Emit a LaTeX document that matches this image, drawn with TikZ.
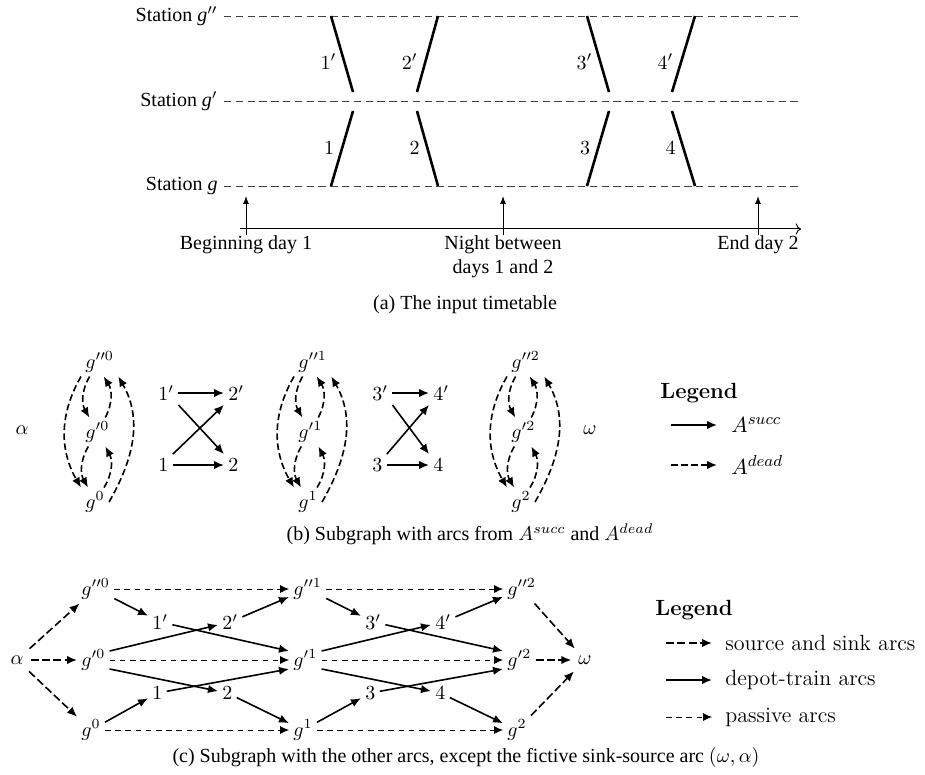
\documentclass[tikz,border=0pt]{standalone}
\usepackage{fontspec}
\newfontfamily\tnr{Liberation Serif}
\usetikzlibrary{arrows.meta}
\begin{document}
\begin{tikzpicture}[x=0.5pt,y=0.5pt,
  station/.style={dash pattern=on 3.7pt off 2.2pt, line width=0.45pt, black!75},
  train/.style={line width=1.3pt},
  tick/.style={-{Latex[length=4pt,width=3pt]}, line width=0.5pt},
  gn/.style={inner sep=2pt, anchor=west},
  tn/.style={inner sep=2pt, anchor=west},
  succ/.style={line width=0.8pt, -{Latex[length=5pt,width=4.2pt]}},
  dead/.style={succ, dash pattern=on 3.3pt off 1.7pt},
  src/.style={succ, dash pattern=on 4pt off 1.7pt},
  passive/.style={line width=0.4pt, dash pattern=on 2.8pt off 2.3pt, -{Latex[length=4.5pt,width=4pt]}},
  captext/.style={font=\tnr},
  legtitle/.style={anchor=west, inner sep=0pt, font=\fontsize{11}{13}\selectfont\bfseries},
  legtext/.style={anchor=west, font=\fontsize{11}{13}\selectfont}
]
\useasboundingbox (0,0) rectangle (925,-775);

% ---------------- (a) timetable ----------------
\node[anchor=east, inner sep=0pt, font=\tnr] (sg2) at (218,-16) {Station \textit{g}$''$};
\node[anchor=east, inner sep=0pt, font=\tnr] (sg1) at (218,-101) {Station \textit{g}$'$};
\node[anchor=east, inner sep=0pt, font=\tnr] (sg0) at (218,-186) {Station \textit{g}};
\coordinate (se2) at (802,-16);
\coordinate (se1) at (802,-101);
\coordinate (se0) at (802,-186);
\draw[station] ([xshift=3pt]sg2.east) -- (se2);
\draw[station] ([xshift=3pt]sg1.east) -- (se1);
\draw[station] ([xshift=3pt]sg0.east) -- (se0);

\draw[train] (331,-16) -- node[pos=0.6,left]{$1'$} (353,-92);
\draw[train] (331,-186) -- node[pos=0.5,left]{$1$} (353,-111);
\draw[train] (438,-16) -- node[pos=0.6,left]{$2'$} (417,-92);
\draw[train] (438,-186) -- node[pos=0.5,left]{$2$} (417,-111);
\draw[train] (587,-16) -- node[pos=0.6,left]{$3'$} (609,-92);
\draw[train] (587,-186) -- node[pos=0.5,left]{$3$} (609,-111);
\draw[train] (695,-16) -- node[pos=0.6,left]{$4'$} (672,-92);
\draw[train] (695,-186) -- node[pos=0.5,left]{$4$} (672,-111);

\coordinate (ax0) at (240,-229);
\coordinate (ax1) at (801,-229);
\draw[->, line width=0.5pt] (ax0) -- (ax1);
\node[anchor=north, inner sep=0pt, font=\tnr] (beg) at (246,-235) {Beginning day 1};
\node[anchor=north, inner sep=0pt, align=center, font=\tnr] (night) at (503,-235) {Night between\\days 1 and 2};
\node[anchor=north, inner sep=0pt, font=\tnr] (endd) at (758,-235) {End day 2};
\coordinate (tb) at (246,-196);
\coordinate (tn) at (503,-196);
\coordinate (te) at (758,-196);
\draw[tick] (beg.north) -- (tb);
\draw[tick] (night.north) -- (tn);
\draw[tick] (endd.north) -- (te);

\node[captext] (capa) at (465,-305) {(a) The input timetable};

% ---------------- (b) ----------------
\node (ab) at (22,-430) {$\alpha$};
\node (wb) at (590,-430) {$\omega$};
\foreach \col/\xl in {0/81, 1/294, 2/507}{
  \node[gn] (b2\col) at (\xl,-362) {$g''^{\col}$};
  \node[gn] (b1\col) at (\xl,-432) {$g'^{\col}$};
  \node[gn] (b0\col) at (\xl,-502) {$g^{\col}$};
  \draw[dead] ([xshift=-5pt]b2\col.south) to[bend right=30] ([xshift=-4pt]b1\col.north);
  \draw[dead] ([xshift=4pt]b1\col.north) to[bend right=30] ([xshift=2pt]b2\col.south);
  \draw[dead] ([xshift=-4.5pt]b1\col.south) to[bend right=30] ([xshift=-3.5pt]b0\col.north);
  \draw[dead] ([xshift=4.5pt]b0\col.north) to[bend right=30] ([xshift=4pt]b1\col.south);
  \draw[dead] (b2\col.south west) to[out=240,in=120] (b0\col.north west);
  \draw[dead] (b0\col.east) to[out=60,in=-60] (b2\col.south east);
}
\node[tn] (b1p) at (154,-393) {$1'$};
\node[tn] (b2p) at (224,-393) {$2'$};
\node[tn] (b1n) at (154,-465) {$1$};
\node[tn] (b2n) at (224,-465) {$2$};
\node[tn] (b3p) at (368,-393) {$3'$};
\node[tn] (b4p) at (429,-393) {$4'$};
\node[tn] (b3n) at (368,-465) {$3$};
\node[tn] (b4n) at (429,-465) {$4$};
\draw[succ] (b1p) -- (b2p);
\draw[succ] (b1n) -- (b2n);
\draw[succ] (b1p.south east) -- (b2n.north west);
\draw[succ] (b1n.north east) -- (b2p.south west);
\draw[succ] (b3p) -- (b4p);
\draw[succ] (b3n) -- (b4n);
\draw[succ] (b3p.south east) -- (b4n.north west);
\draw[succ] (b3n.north east) -- (b4p.south west);

\node[legtitle] (legb) at (660,-393) {Legend};
\coordinate (lb1) at (671,-425);
\coordinate (lb2) at (671,-465);
\node[legtext, inner xsep=7pt] (lbt1) at (717,-425) {$A^{succ}$};
\node[legtext, inner xsep=7pt] (lbt2) at (717,-465) {$A^{dead}$};
\draw[succ] (lb1) -- (lbt1.west);
\draw[dead] (lb2) -- (lbt2.west);

\node[captext] (capb) at (470,-534) {(b) Subgraph with arcs from $A^{succ}$ and $A^{dead}$};

% ---------------- (c) ----------------
\node (ac) at (17,-660) {$\alpha$};
\node (wc) at (585,-660) {$\omega$};
\foreach \col/\xl in {0/77, 1/289, 2/503}{
  \node[gn] (c2\col) at (\xl,-589) {$g''^{\col}$};
  \node[gn] (c1\col) at (\xl,-660) {$g'^{\col}$};
  \node[gn] (c0\col) at (\xl,-730) {$g^{\col}$};
}
\node[tn] (c1p) at (148,-622) {$1'$};
\node[tn] (c2p) at (218,-622) {$2'$};
\node[tn] (c1n) at (148,-693) {$1$};
\node[tn] (c2n) at (218,-693) {$2$};
\node[tn] (c3p) at (361,-622) {$3'$};
\node[tn] (c4p) at (431,-622) {$4'$};
\node[tn] (c3n) at (361,-693) {$3$};
\node[tn] (c4n) at (431,-693) {$4$};

% source and sink arcs
\draw[src] (ac) -- (c20);
\draw[src] (ac) -- (c10);
\draw[src] (ac) -- (c00);
\draw[src] (c22) -- (wc);
\draw[src] (c12) -- (wc);
\draw[src] (c02) -- (wc);
% passive arcs
\draw[passive] (c20) -- (c21);
\draw[passive] (c21) -- (c22);
\draw[passive] (c10) -- (c11);
\draw[passive] (c11) -- (c12);
\draw[passive] (c00) -- (c01);
\draw[passive] (c01) -- (c02);
% depot-train arcs
\draw[succ] (c20) -- (c1p);
\draw[succ] (c2p) -- (c21);
\draw[succ] (c21) -- (c3p);
\draw[succ] (c4p) -- (c22);
\draw[succ] ([yshift=4.5pt]c10.east) -- (c2p);
\draw[succ] ([yshift=-4.5pt]c10.east) -- (c2n);
\draw[succ] (c1p) -- ([yshift=4.5pt]c11.west);
\draw[succ] (c1n) -- ([yshift=-4.5pt]c11.west);
\draw[succ] ([yshift=4.5pt]c11.east) -- (c4p);
\draw[succ] ([yshift=-4.5pt]c11.east) -- (c4n);
\draw[succ] (c3p) -- ([yshift=4.5pt]c12.west);
\draw[succ] (c3n) -- ([yshift=-4.5pt]c12.west);
\draw[succ] (c00) -- (c1n);
\draw[succ] (c2n) -- (c01);
\draw[succ] (c01) -- (c3n);
\draw[succ] (c4n) -- (c02);

\node[legtitle] (legc) at (655,-610) {Legend};
\coordinate (lc1) at (666,-643);
\coordinate (lc2) at (666,-680);
\coordinate (lc3) at (666,-717);
\node[legtext, inner xsep=6.5pt] (lct1) at (712,-643) {source and sink arcs};
\node[legtext, inner xsep=6.5pt] (lct2) at (712,-680) {depot-train arcs};
\node[legtext, inner xsep=6.5pt] (lct3) at (712,-717) {passive arcs};
\draw[src] (lc1) -- (lct1.west);
\draw[succ] (lc2) -- (lct2.west);
\draw[passive] (lc3) -- (lct3.west);

\node[captext] (capc) at (466,-757) {(c) Subgraph with the other arcs, except the fictive sink-source arc $(\omega,\alpha)$};
\end{tikzpicture}
\end{document}
